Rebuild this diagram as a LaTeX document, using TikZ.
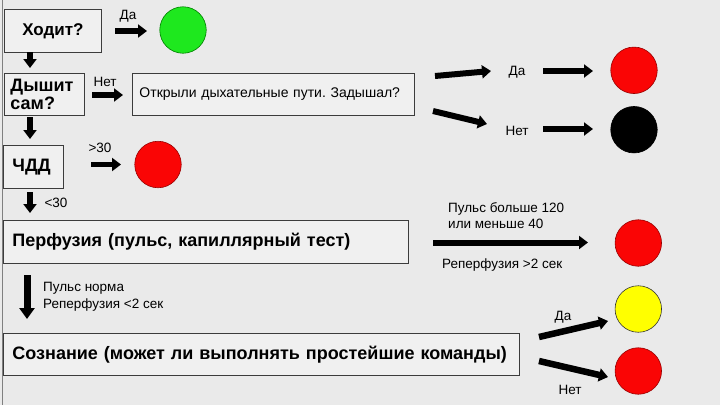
\documentclass[tikz,border=0pt]{standalone}
\usepackage{fontspec}
\setmainfont{Liberation Sans}
\usetikzlibrary{arrows.meta}
\definecolor{bg}{RGB}{234,234,234}
\definecolor{boxfill}{RGB}{240,240,240}
\definecolor{boxline}{RGB}{60,60,60}
\definecolor{lime}{RGB}{30,232,30}
\definecolor{redc}{RGB}{250,5,5}
\definecolor{yel}{RGB}{255,255,0}
\tikzset{
  qbox/.style={draw=boxline, line width=0.9pt, fill=boxfill, inner sep=0pt, anchor=north west, align=left},
  boldtxt/.style={font=\fontsize{18}{19}\selectfont\bfseries},
  normtxt/.style={font=\fontsize{14}{16}\selectfont},
  lbl/.style={font=\fontsize{13.5}{16.5}\selectfont, inner sep=0pt},
  bigarrow/.style={line width=5.5pt, -{Triangle[length=9pt,width=13pt]}},
  dot/.style={circle, minimum size=46.5pt, inner sep=0pt, line width=0.6pt},
}
\begin{document}
\frenchspacing
\begin{tikzpicture}[x=1pt,y=-1pt]
\useasboundingbox (0,0) rectangle (720,405);
\fill[bg] (0,0) rectangle (720,405);
\draw[gray, line width=0.8pt] (2,0) -- (2,405);

% boxes
\node[qbox, font=\fontsize{17}{18}\selectfont\bfseries, minimum width=97pt, minimum height=43pt, text width=97pt, align=center] (hodit) at (4,9) {Ходит?};
\node[qbox, boldtxt, minimum width=80pt, minimum height=42pt, text width=68pt, inner xsep=6pt] (dyshit) at (4,73) {Дышит\\[-1pt]сам?};
\node[qbox, normtxt, minimum width=282pt, minimum height=42pt, text width=268pt, inner xsep=7pt] (open) at (132,73) {Открыли дыхательные пути. Задышал?};
\node[qbox, boldtxt, minimum width=60pt, minimum height=43pt, text width=42pt, inner xsep=9pt] (chdd) at (3,145) {ЧДД};
\node[qbox, boldtxt, minimum width=405pt, minimum height=43pt, text width=387pt, inner xsep=9pt] (perf) at (3,220) {Перфузия (пульс, капиллярный тест)};
\node[qbox, boldtxt, minimum width=516pt, minimum height=42pt, text width=498pt, inner xsep=9pt] (soz) at (3,333) {Сознание (может ли выполнять простейшие команды)};

% circles
\node[dot, fill=lime, draw=green!50!black] (cgreen) at (183,30) {};
\node[dot, fill=redc, draw=red!60!black] (cred1) at (158,164.5) {};
\node[dot, fill=redc, draw=red!60!black] (cred2) at (634,70.3) {};
\node[dot, fill=black, draw=black] (cblack) at (634,129.7) {};
\node[dot, fill=redc, draw=red!60!black] (cred3) at (638.3,243) {};
\node[dot, fill=yel, draw=black!80] (cyel) at (638.3,309) {};
\node[dot, fill=redc, draw=red!60!black] (cred4) at (638.3,371) {};

% labels
\node[lbl] (lda1) at (128,16) {Да};
\node[lbl] (lnet1) at (105,81.5) {Нет};
\node[lbl] (lgt30) at (100,148) {>30};
\node[lbl] (llt30) at (56,203) {<30};
\node[lbl, anchor=west, align=left, font=\fontsize{13.5}{17}\selectfont] (lnorm) at (43,296.5) {Пульс норма\\Реперфузия <2 сек};
\node[lbl] (lda2) at (517,72) {Да};
\node[lbl] (lnet2) at (517,130.5) {Нет};
\node[lbl, anchor=west, align=left] (lpuls) at (448,215.5) {Пульс больше 120\\или меньше 40};
\node[lbl, anchor=west] (lrep) at (442,265) {Реперфузия >2 сек};
\node[lbl] (lda3) at (563,317) {Да};
\node[lbl] (lnet3) at (570,390) {Нет};

% arrow end points
\coordinate (a1s) at (115,31);   \coordinate (a1e) at (147,31);
\coordinate (a2s) at (30,52);    \coordinate (a2e) at (30,68);
\coordinate (a3s) at (92,95);    \coordinate (a3e) at (123,95);
\coordinate (a4s) at (30,117);   \coordinate (a4e) at (30,139);
\coordinate (a5s) at (91,164.5); \coordinate (a5e) at (121,164.5);
\coordinate (a6s) at (30,192);   \coordinate (a6e) at (30,213);
\coordinate (a7s) at (27,275);   \coordinate (a7e) at (27,319);
\coordinate (a8s) at (435,76);   \coordinate (a8e) at (491,71);
\coordinate (a9s) at (543,71);   \coordinate (a9e) at (593,71);
\coordinate (a10s) at (433,111); \coordinate (a10e) at (487,124);
\coordinate (a11s) at (543,129); \coordinate (a11e) at (593,129);
\coordinate (a12s) at (433,242.5); \coordinate (a12e) at (588,242.5);
\coordinate (a13s) at (539,337); \coordinate (a13e) at (608,321);
\coordinate (a14s) at (539,361); \coordinate (a14e) at (608,377);

\draw[bigarrow] (a1s) -- (a1e);
\draw[bigarrow] (a2s) -- (a2e);
\draw[bigarrow] (a3s) -- (a3e);
\draw[bigarrow] (a4s) -- (a4e);
\draw[bigarrow] (a5s) -- (a5e);
\draw[bigarrow] (a6s) -- (a6e);
\draw[bigarrow, line width=7pt, -{Triangle[length=11pt,width=15pt]}] (a7s) -- (a7e);
\draw[bigarrow, line width=6pt] (a8s) -- (a8e);
\draw[bigarrow] (a9s) -- (a9e);
\draw[bigarrow, line width=6pt] (a10s) -- (a10e);
\draw[bigarrow] (a11s) -- (a11e);
\draw[bigarrow, line width=6pt] (a12s) -- (a12e);
\draw[bigarrow, line width=6.5pt] (a13s) -- (a13e);
\draw[bigarrow, line width=6.5pt] (a14s) -- (a14e);
\end{tikzpicture}
\end{document}
